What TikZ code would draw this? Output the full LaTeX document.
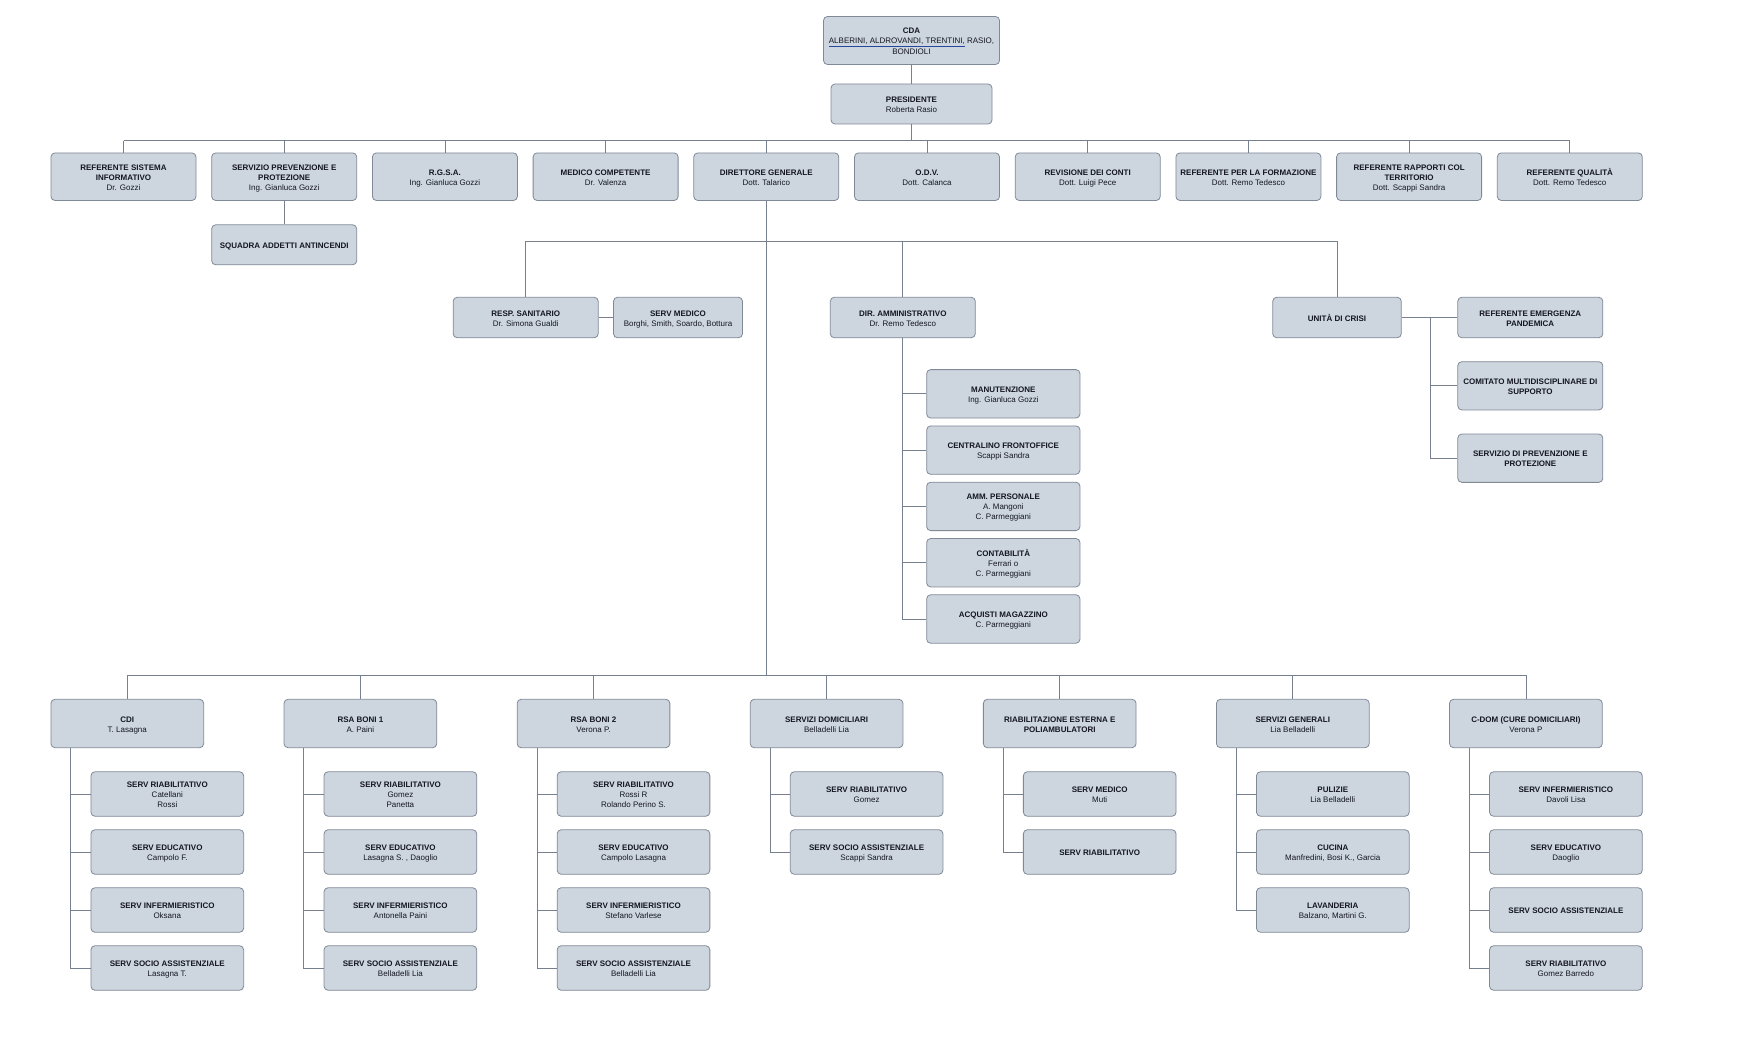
\documentclass[tikz,border=0pt]{standalone}
\usepackage{fontspec}
\setmainfont{Liberation Sans}
\definecolor{boxc}{RGB}{205,214,223}
\definecolor{bordc}{RGB}{128,137,150}
\definecolor{linec}{RGB}{118,128,143}
\definecolor{txtc}{RGB}{20,22,32}
\definecolor{ulc}{RGB}{40,70,160}
\newcommand\bxt[1]{\raisebox{0pt}[\dimexpr\height+3pt\relax][\depth]{\begin{tabular}{@{}c@{}}#1\end{tabular}}}
\begin{document}
\begin{tikzpicture}[x=1pt,y=-1pt]
\tikzset{
 box/.style={draw=bordc, fill=boxc, rounded corners=4pt, line width=0.8pt, inner sep=1pt, text=txtc, font=\fontsize{8}{10}\selectfont},
 conn/.style={draw=linec, line width=0.8pt},
 topbox/.style={box, minimum width=145pt, minimum height=47.6pt},
 rowtwo/.style={box, minimum height=40.5pt},
 sidebox/.style={box, minimum width=145pt},
 ammbox/.style={box, minimum width=153.3pt, minimum height=48.4pt},
 unitbox/.style={box, minimum width=152.7pt, minimum height=48.4pt},
 subbox/.style={box, minimum width=152.7pt, minimum height=44.5pt},
}
\useasboundingbox (0,0) rectangle (1737,1046);

% top
\node[box, minimum width=176pt, minimum height=48pt] (cda) at (911.5,40.5) {\bxt{\textbf{CDA}\\\textcolor{ulc}{\underline{\textcolor{txtc}{ALBERINI, ALDROVANDI, TRENTINI,}}} RASIO,\\BONDIOLI}};
\node[box, minimum width=161pt, minimum height=40pt] (pres) at (911.5,104) {\bxt{\textbf{PRESIDENTE}\\Roberta Rasio}};

% first level
\node[topbox] (t1) at (123.5,176.7) {\bxt{\textbf{REFERENTE SISTEMA}\\\textbf{INFORMATIVO}\\Dr. Gozzi}};
\node[topbox] (t2) at (284.2,176.7) {\bxt{\textbf{SERVIZIO PREVENZIONE E}\\\textbf{PROTEZIONE}\\Ing. Gianluca Gozzi}};
\node[topbox] (t3) at (444.9,176.7) {\bxt{\textbf{R.G.S.A.}\\Ing. Gianluca Gozzi}};
\node[topbox] (t4) at (605.6,176.7) {\bxt{\textbf{MEDICO COMPETENTE}\\Dr. Valenza}};
\node[topbox] (dg) at (766.3,176.7) {\bxt{\textbf{DIRETTORE GENERALE}\\Dott. Talarico}};
\node[topbox] (t6) at (927.0,176.7) {\bxt{\textbf{O.D.V.}\\Dott. Calanca}};
\node[topbox] (t7) at (1087.7,176.7) {\bxt{\textbf{REVISIONE DEI CONTI}\\Dott. Luigi Pece}};
\node[topbox] (t8) at (1248.4,176.7) {\bxt{\textbf{REFERENTE PER LA FORMAZIONE}\\Dott. Remo Tedesco}};
\node[topbox] (t9) at (1409.1,176.7) {\bxt{\textbf{REFERENTE RAPPORTI COL}\\\textbf{TERRITORIO}\\Dott. Scappi Sandra}};
\node[topbox] (t10) at (1569.8,176.7) {\bxt{\textbf{REFERENTE QUALITÀ}\\Dott. Remo Tedesco}};
\node[box, minimum width=145pt, minimum height=40pt] (squadra) at (284.2,244.8) {\bxt{\textbf{SQUADRA ADDETTI ANTINCENDI}}};

\coordinate (topbus) at (911.5,140.7);
\draw[conn] (cda) -- (pres);
\draw[conn] (pres.south) -- (topbus);
\draw[conn] (t1.north |- topbus) -- (t10.north |- topbus);
\foreach \n in {t1,t2,t3,t4,dg,t6,t7,t8,t9,t10}{\draw[conn] (\n.north) -- (\n.north |- topbus);}
\draw[conn] (t2) -- (squadra);

% second level
\node[rowtwo, minimum width=145pt] (resp) at (525.7,317.5) {\bxt{\textbf{RESP. SANITARIO}\\Dr. Simona Gualdi}};
\node[rowtwo, minimum width=129pt] (sermed) at (678,317.5) {\bxt{\textbf{SERV MEDICO}\\Borghi, Smith, Soardo, Bottura}};
\node[rowtwo, minimum width=145pt] (diramm) at (902.8,317.5) {\bxt{\textbf{DIR. AMMINISTRATIVO}\\Dr. Remo Tedesco}};
\node[rowtwo, minimum width=128.5pt] (unita) at (1337,317.5) {\bxt{\textbf{UNITÀ DI CRISI}}};

\coordinate (dgbr) at (766.3,241);
\coordinate (botbus) at (766.3,675.3);
\draw[conn] (dg.south) -- (botbus);
\draw[conn] (resp.north |- dgbr) -- (unita.north |- dgbr);
\draw[conn] (resp.north |- dgbr) -- (resp.north);
\draw[conn] (diramm.north |- dgbr) -- (diramm.north);
\draw[conn] (unita.north |- dgbr) -- (unita.north);
\draw[conn] (resp) -- (sermed);

% unita children
\node[sidebox, minimum height=40.5pt] (refem) at (1530.3,317.5) {\bxt{\textbf{REFERENTE EMERGENZA}\\\textbf{PANDEMICA}}};
\node[sidebox, minimum height=48.3pt] (comit) at (1530.3,385.8) {\bxt{\textbf{COMITATO MULTIDISCIPLINARE DI}\\\textbf{SUPPORTO}}};
\node[sidebox, minimum height=48.3pt] (spp2) at (1530.3,458.2) {\bxt{\textbf{SERVIZIO DI PREVENZIONE E}\\\textbf{PROTEZIONE}}};
\coordinate (ucbus) at (1430,317.5);
\draw[conn] (unita) -- (refem);
\draw[conn] (ucbus) |- (comit.west);
\draw[conn] (ucbus) |- (spp2.west);

% dir amm children
\node[ammbox] (a1) at (1003.3,393.8) {\bxt{\textbf{MANUTENZIONE}\\Ing. Gianluca Gozzi}};
\node[ammbox] (a2) at (1003.3,450.1) {\bxt{\textbf{CENTRALINO FRONTOFFICE}\\Scappi Sandra}};
\node[ammbox] (a3) at (1003.3,506.4) {\bxt{\textbf{AMM. PERSONALE}\\A. Mangoni\\C. Parmeggiani}};
\node[ammbox] (a4) at (1003.3,562.7) {\bxt{\textbf{CONTABILITÀ}\\Ferrari o\\C. Parmeggiani}};
\node[ammbox] (a5) at (1003.3,619.0) {\bxt{\textbf{ACQUISTI MAGAZZINO}\\C. Parmeggiani}};
\foreach \n in {a1,a2,a3,a4,a5}{\draw[conn] (diramm.south) |- (\n.west);}

% bottom level
\node[unitbox] (b1) at (127.3,723.5) {\bxt{\textbf{CDI}\\T. Lasagna}};
\node[unitbox] (b2) at (360.4,723.5) {\bxt{\textbf{RSA BONI 1}\\A. Paini}};
\node[unitbox] (b3) at (593.5,723.5) {\bxt{\textbf{RSA BONI 2}\\Verona P.}};
\node[unitbox] (b4) at (826.6,723.5) {\bxt{\textbf{SERVIZI DOMICILIARI}\\Belladelli Lia}};
\node[unitbox] (b5) at (1059.7,723.5) {\bxt{\textbf{RIABILITAZIONE ESTERNA E}\\\textbf{POLIAMBULATORI}}};
\node[unitbox] (b6) at (1292.8,723.5) {\bxt{\textbf{SERVIZI GENERALI}\\Lia Belladelli}};
\node[unitbox] (b7) at (1525.9,723.5) {\bxt{\textbf{C-DOM (CURE DOMICILIARI)}\\Verona P}};
\draw[conn] (b1.north |- botbus) -- (b7.north |- botbus);
\foreach \n in {b1,b2,b3,b4,b5,b6,b7}{\draw[conn] (\n.north |- botbus) -- (\n.north);}

% CDI children
\node[subbox] (c11) at (167.3,794) {\bxt{\textbf{SERV RIABILITATIVO}\\Catellani\\Rossi}};
\node[subbox] (c12) at (167.3,852) {\bxt{\textbf{SERV EDUCATIVO}\\Campolo F.}};
\node[subbox] (c13) at (167.3,910) {\bxt{\textbf{SERV INFERMIERISTICO}\\Oksana}};
\node[subbox] (c14) at (167.3,968) {\bxt{\textbf{SERV SOCIO ASSISTENZIALE}\\Lasagna T.}};
% RSA BONI 1
\node[subbox] (c21) at (400.4,794) {\bxt{\textbf{SERV RIABILITATIVO}\\Gomez\\Panetta}};
\node[subbox] (c22) at (400.4,852) {\bxt{\textbf{SERV EDUCATIVO}\\Lasagna S. , Daoglio}};
\node[subbox] (c23) at (400.4,910) {\bxt{\textbf{SERV INFERMIERISTICO}\\Antonella Paini}};
\node[subbox] (c24) at (400.4,968) {\bxt{\textbf{SERV SOCIO ASSISTENZIALE}\\Belladelli Lia}};
% RSA BONI 2
\node[subbox] (c31) at (633.5,794) {\bxt{\textbf{SERV RIABILITATIVO}\\Rossi R\\Rolando Perino S.}};
\node[subbox] (c32) at (633.5,852) {\bxt{\textbf{SERV EDUCATIVO}\\Campolo Lasagna}};
\node[subbox] (c33) at (633.5,910) {\bxt{\textbf{SERV INFERMIERISTICO}\\Stefano Varlese}};
\node[subbox] (c34) at (633.5,968) {\bxt{\textbf{SERV SOCIO ASSISTENZIALE}\\Belladelli Lia}};
% SERVIZI DOMICILIARI
\node[subbox] (c41) at (866.6,794) {\bxt{\textbf{SERV RIABILITATIVO}\\Gomez}};
\node[subbox] (c42) at (866.6,852) {\bxt{\textbf{SERV SOCIO ASSISTENZIALE}\\Scappi Sandra}};
% RIABILITAZIONE
\node[subbox] (c51) at (1099.7,794) {\bxt{\textbf{SERV MEDICO}\\Muti}};
\node[subbox] (c52) at (1099.7,852) {\bxt{\textbf{SERV RIABILITATIVO}}};
% SERVIZI GENERALI
\node[subbox] (c61) at (1332.8,794) {\bxt{\textbf{PULIZIE}\\Lia Belladelli}};
\node[subbox] (c62) at (1332.8,852) {\bxt{\textbf{CUCINA}\\Manfredini, Bosi K., Garcia}};
\node[subbox] (c63) at (1332.8,910) {\bxt{\textbf{LAVANDERIA}\\Balzano, Martini G.}};
% C-DOM
\node[subbox] (c71) at (1565.9,794) {\bxt{\textbf{SERV INFERMIERISTICO}\\Davoli Lisa}};
\node[subbox] (c72) at (1565.9,852) {\bxt{\textbf{SERV EDUCATIVO}\\Daoglio}};
\node[subbox] (c73) at (1565.9,910) {\bxt{\textbf{SERV SOCIO ASSISTENZIALE}}};
\node[subbox] (c74) at (1565.9,968) {\bxt{\textbf{SERV RIABILITATIVO}\\Gomez Barredo}};

\foreach \p/\kids in {b1/{c11,c12,c13,c14},b2/{c21,c22,c23,c24},b3/{c31,c32,c33,c34},b4/{c41,c42},b5/{c51,c52},b6/{c61,c62,c63},b7/{c71,c72,c73,c74}}{
  \foreach \k in \kids {\draw[conn] ([xshift=-56.6pt]\p.south) |- (\k.west);}
}
\end{tikzpicture}
\end{document}
